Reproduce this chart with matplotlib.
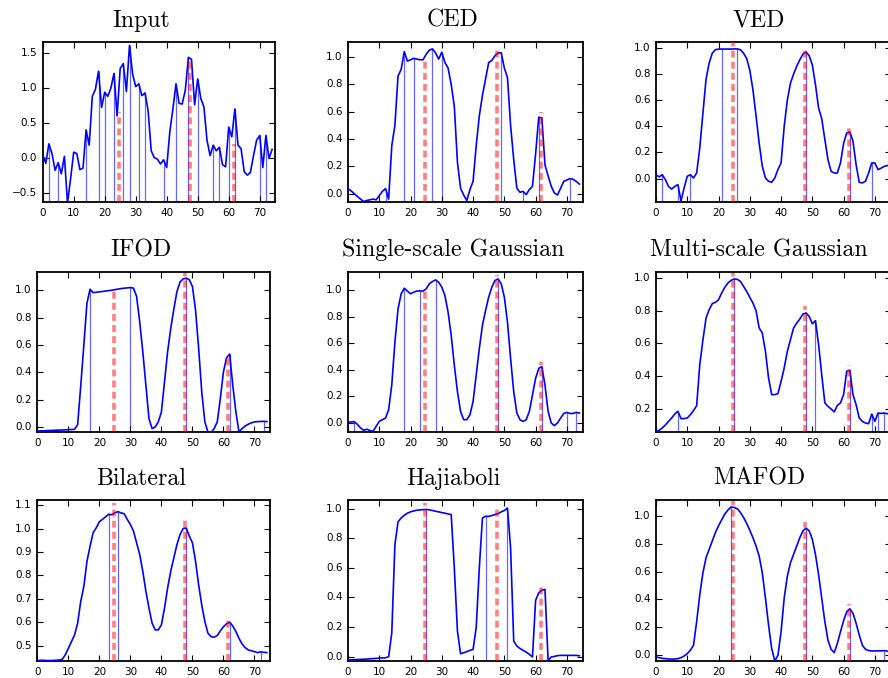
import numpy as np
import matplotlib
matplotlib.use('Agg')
import matplotlib.pyplot as plt
from matplotlib.ticker import MultipleLocator

plt.style.use('classic')
plt.rcParams['figure.facecolor'] = 'white'
plt.rcParams['savefig.facecolor'] = 'white'
plt.rcParams['font.family'] = 'DejaVu Sans'

# ground truth peak positions (red dashed lines)
truth = [24.6, 47.6, 61.6]

names = ['Input', 'CED', 'VED',
         'IFOD', 'Single-scale Gaussian', 'Multi-scale Gaussian',
         'Bilateral', 'Hajiaboli', 'MAFOD']

sig_input = [0.05, -0.08, 0.2, 0.06, -0.18, -0.07, -0.23, 0.02, -0.65, -0.3,
             0.08, 0.06, -0.17, -0.15, 0.4, 0.18, 0.88, 0.98, 1.24, 0.72,
             0.94, 0.88, 1.0, 1.21, 0.6, 1.28, 1.35, 0.95, 1.61, 1.2,
             1.02, 1.06, 0.89, 0.93, 0.68, 0.1, 0.0, -0.02, -0.09, -0.03,
             -0.14, 0.37, 0.7, 1.06, 0.78, 0.77, 0.97, 1.44, 1.41, 0.76,
             1.13, 0.85, 0.73, 0.25, 0.03, 0.18, 0.1, 0.15, -0.1, -0.13,
             0.44, 0.3, 0.7, 0.18, 0.13, -0.2, -0.25, -0.21, 0.03, 0.25,
             0.32, -0.14, 0.32, -0.01, 0.12]
sig_ced = [0.037, 0.02, 0.0, -0.02, -0.04, -0.057, -0.05, -0.045, -0.04, -0.045,
           -0.015, 0.017, 0.037, -0.04, 0.35, 0.5, 0.86, 0.91, 1.04, 0.97,
           0.98, 0.99, 0.985, 0.98, 0.98, 1.02, 1.05, 1.06, 1.03, 0.985,
           1.035, 0.96, 0.92, 0.8, 0.64, 0.23, 0.04, -0.01, -0.05, 0.03,
           0.09, 0.35, 0.57, 0.72, 0.84, 0.96, 0.975, 1.01, 1.03, 1.031,
           0.92, 0.85, 0.5, 0.25, 0.04, 0.01, 0.017, -0.007, 0.03, 0.054,
           0.29, 0.56, 0.555, 0.21, 0.13, 0.054, 0.005, -0.01, 0.04, 0.09,
           0.1, 0.11, 0.105, 0.09, 0.07]
sig_ved = [0.03, 0.013, 0.03, -0.008, -0.06, -0.08, -0.06, -0.046, -0.17, -0.07,
           0.018, 0.03, 0.005, 0.043, 0.235, 0.5, 0.76, 0.885, 0.96, 0.987,
           0.992, 0.992, 0.992, 0.992, 0.992, 0.993, 0.993, 0.987, 0.96, 0.92,
           0.83, 0.68, 0.48, 0.27, 0.094, 0.005, -0.02, -0.028, 0.005, 0.07,
           0.12, 0.4, 0.6, 0.73, 0.8, 0.86, 0.91, 0.954, 0.97, 0.94,
           0.87, 0.72, 0.54, 0.46, 0.3, 0.145, 0.056, 0.043, 0.043, 0.12,
           0.27, 0.35, 0.357, 0.286, 0.107, -0.028, -0.033, -0.02, 0.043, 0.12,
           0.12, 0.069, 0.08, 0.094, 0.1]
sig_ifod = [-0.03, -0.029, -0.028, -0.027, -0.026, -0.025, -0.024, -0.023, -0.022, -0.021,
            -0.02, -0.019, -0.017, 0.017, 0.3, 0.6, 0.905, 1.007, 0.983, 0.985,
            0.988, 0.991, 0.994, 0.997, 1.0, 1.004, 1.008, 1.012, 1.015, 1.017,
            1.02, 1.015, 0.955, 0.77, 0.55, 0.305, 0.06, -0.012, 0.0, 0.037,
            0.11, 0.33, 0.55, 0.72, 0.86, 0.99, 1.06, 1.083, 1.088, 1.076,
            1.027, 0.856, 0.575, 0.257, 0.037, -0.037, -0.04, -0.012, 0.037, 0.21,
            0.403, 0.506, 0.533, 0.305, 0.11, -0.037, -0.012, 0.007, 0.02, 0.03,
            0.037, 0.039, 0.04, 0.041, 0.039]
sig_single = [0.005, 0.008, 0.01, -0.01, -0.037, -0.055, -0.047, -0.057, -0.062, -0.025,
              0.012, 0.025, 0.037, 0.1, 0.287, 0.61, 0.86, 0.975, 1.017, 0.995,
              0.975, 0.987, 0.995, 0.997, 0.995, 1.012, 1.05, 1.067, 1.08, 1.062,
              1.025, 0.962, 0.837, 0.662, 0.437, 0.237, 0.087, 0.025, 0.025, 0.062,
              0.162, 0.362, 0.562, 0.737, 0.85, 0.95, 1.025, 1.075, 1.087, 1.05,
              0.95, 0.762, 0.487, 0.237, 0.075, 0.025, 0.012, 0.025, 0.087, 0.212,
              0.337, 0.412, 0.425, 0.287, 0.087, 0.0, -0.02, 0.0, 0.037, 0.072,
              0.08, 0.072, 0.072, 0.08, 0.075]
sig_multi = [0.061, 0.067, 0.082, 0.1, 0.122, 0.143, 0.167, 0.184, 0.139, 0.139,
             0.143, 0.163, 0.188, 0.218, 0.47, 0.62, 0.755, 0.806, 0.843, 0.851,
             0.867, 0.908, 0.943, 0.969, 0.986, 0.994, 0.992, 0.98, 0.949, 0.918,
             0.882, 0.847, 0.8, 0.694, 0.663, 0.551, 0.388, 0.286, 0.286, 0.292,
             0.367, 0.449, 0.551, 0.622, 0.694, 0.724, 0.749, 0.78, 0.786, 0.765,
             0.72, 0.739, 0.592, 0.408, 0.235, 0.214, 0.198, 0.18, 0.22, 0.235,
             0.286, 0.429, 0.435, 0.286, 0.224, 0.143, 0.122, 0.112, 0.108, 0.167,
             0.122, 0.173, 0.171, 0.173, 0.169]
sig_bilateral = [0.435, 0.437, 0.437, 0.436, 0.436, 0.436, 0.437, 0.438, 0.441, 0.46,
                 0.488, 0.517, 0.545, 0.596, 0.689, 0.753, 0.86, 0.925, 0.983, 1.004,
                 1.03, 1.04, 1.051, 1.062, 1.06, 1.068, 1.073, 1.068, 1.064, 1.04,
                 1.018, 0.99, 0.94, 0.89, 0.818, 0.732, 0.66, 0.596, 0.567, 0.567,
                 0.589, 0.66, 0.746, 0.818, 0.875, 0.932, 0.975, 1.001, 1.003, 0.968,
                 0.94, 0.861, 0.76, 0.674, 0.603, 0.553, 0.538, 0.536, 0.543, 0.563,
                 0.581, 0.593, 0.6, 0.584, 0.56, 0.531, 0.507, 0.491, 0.481, 0.478,
                 0.474, 0.47, 0.473, 0.471, 0.47]
sig_hajiaboli = [-0.022, -0.021, -0.02, -0.019, -0.018, -0.017, -0.016, -0.014, -0.013, -0.011,
                 -0.01, -0.008, -0.007, 0.0, 0.16, 0.757, 0.91, 0.937, 0.955, 0.969,
                 0.978, 0.984, 0.989, 0.991, 0.993, 0.994, 0.992, 0.987, 0.982, 0.978,
                 0.973, 0.969, 0.964, 0.96, 0.6, 0.173, 0.02, 0.027, 0.034, 0.043,
                 0.049, 0.196, 0.6, 0.937, 0.948, 0.948, 0.953, 0.96, 0.966, 0.978,
                 0.987, 1.004, 0.735, 0.106, 0.072, 0.056, 0.043, 0.031, 0.016, -0.002,
                 0.38, 0.431, 0.449, 0.454, -0.025, -0.002, 0.002, 0.007, 0.009, 0.009,
                 0.009, 0.009, 0.009, 0.009, 0.006]
sig_mafod = [-0.012, -0.017, -0.022, -0.024, -0.027, -0.027, -0.027, -0.024, -0.017, -0.005,
             0.012, 0.036, 0.072, 0.241, 0.434, 0.59, 0.699, 0.759, 0.819, 0.88,
             0.928, 0.971, 1.012, 1.041, 1.063, 1.06, 1.05, 1.024, 0.988, 0.945,
             0.896, 0.843, 0.783, 0.711, 0.59, 0.41, 0.217, 0.048, -0.041, 0.0,
             0.169, 0.41, 0.566, 0.663, 0.723, 0.783, 0.843, 0.892, 0.911, 0.892,
             0.831, 0.723, 0.578, 0.41, 0.241, 0.108, 0.043, 0.019, 0.084, 0.169,
             0.248, 0.313, 0.333, 0.301, 0.229, 0.145, 0.072, 0.043, 0.034, 0.031,
             0.031, 0.032, 0.032, 0.033, 0.03]

signals = [sig_input, sig_ced, sig_ved, sig_ifod, sig_single, sig_multi,
           sig_bilateral, sig_hajiaboli, sig_mafod]

# detected peaks (thin blue lines)
peaks = [[2, 5, 14, 18, 20, 23, 26, 28, 31, 33, 39, 43, 47, 50, 55, 57, 60, 62, 70, 72],
         [12, 18, 21, 27, 30, 49, 56, 61, 71],
         [2, 7, 11, 21, 26, 48, 62, 69],
         [17, 30, 48, 62, 73],
         [2, 18, 23, 28, 48, 62, 70, 73],
         [7, 25, 48, 51, 62, 69, 71, 73],
         [23, 26, 48, 62, 72],
         [25, 44, 51],
         [24, 48, 62, 73]]

# height of the red ground-truth markers
truth_h = [[0.65, 1.42, 0.2],
           [0.98, 1.06, 0.6],
           [1.046, 1.008, 0.395],
           [1.0, 1.125, 0.51],
           [1.01, 1.12, 0.46],
           [1.03, 0.83, 0.47],
           [1.11, 1.043, 0.61],
           [1.04, 1.0, 0.48],
           [1.108, 0.957, 0.369]]

ylims = [(-0.635, 1.66), (-0.061, 1.11), (-0.179, 1.046),
         (-0.037, 1.137), (-0.068, 1.143), (0.057, 1.04),
         (0.434, 1.123), (-0.029, 1.058), (-0.041, 1.113)]
ysteps = [0.5, 0.2, 0.2, 0.2, 0.2, 0.2, 0.1, 0.2, 0.2]

W, H = 888, 678
# axes boxes in pixels: left, top, width, height
boxes = [(42.7, 42, 232.5, 160), (348, 42, 234.5, 160), (656, 42, 234.5, 160),
         (37.3, 271.5, 232.7, 160.5), (348, 271.5, 234.5, 160.5), (656, 271.5, 234.5, 160.5),
         (37.3, 500, 232.7, 161), (348, 500, 234.5, 161), (656, 500, 234.5, 161)]
# titles sit a little left of the axes centre
title_cx = [141, 453, 759]

fig = plt.figure(figsize=(W / 100, H / 100), dpi=100)

for i in range(9):
    l, t, w, h = boxes[i]
    ax = fig.add_axes([l / W, 1 - (t + h) / H, w / W, h / H])
    sig = np.array(signals[i])
    x = np.arange(len(sig))
    lo, hi = ylims[i]

    ax.plot(x, sig, color='b', lw=1.2, zorder=3)
    pk = np.array(peaks[i])
    ax.vlines(pk, lo, np.interp(pk, x, sig), colors='b', lw=0.9, alpha=0.6, zorder=2)
    ax.vlines(truth, lo, truth_h[i], colors='r', lw=2.6, alpha=0.5,
              linestyles=(0, (5, 3)), zorder=4)

    ax.set_xlim(0, 75)
    ax.set_ylim(lo, hi)
    ax.xaxis.set_major_locator(MultipleLocator(10))
    ax.yaxis.set_major_locator(MultipleLocator(ysteps[i]))
    ax.tick_params(labelsize=7.5, length=4, width=0.8)
    for s in ax.spines.values():
        s.set_linewidth(1.3)
    tx = (title_cx[i % 3] - l) / w
    ax.set_title(names[i], fontname='cmr10', fontsize=17.2, pad=11, x=tx)

fig.savefig('out.png', dpi=100)
